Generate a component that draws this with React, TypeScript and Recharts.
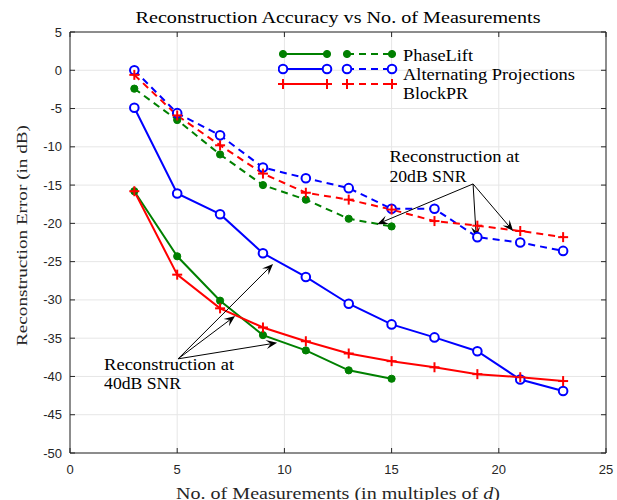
import React from 'react';
import { LineChart, Line, XAxis, YAxis, CartesianGrid, ReferenceLine, ReferenceDot, Legend } from 'recharts';

const measurements = [3, 5, 7, 9, 11, 13, 15, 17, 19, 21, 23];
const phaseLift40 = [-15.8, -24.3, -30.1, -34.6, -36.6, -39.2, -40.3];
const phaseLift20 = [-2.4, -6.5, -11.0, -15.0, -16.9, -19.4, -20.4];
const altProj40 = [-4.9, -16.1, -18.8, -23.9, -27.0, -30.5, -33.2, -34.9, -36.7, -40.4, -41.9];
const altProj20 = [0.0, -5.6, -8.5, -12.7, -14.1, -15.4, -18.1, -18.1, -21.8, -22.5, -23.6];
const blockPR40 = [-15.8, -26.7, -31.1, -33.6, -35.4, -37.0, -38.0, -38.8, -39.7, -40.1, -40.6];
const blockPR20 = [-0.6, -5.9, -9.8, -13.5, -16.0, -16.9, -18.2, -19.7, -20.3, -21.0, -21.8];

const xTicks = [0, 5, 10, 15, 20, 25];
const yTicks = [-50, -45, -40, -35, -30, -25, -20, -15, -10, -5, 0, 5];

const legendLabels = ['PhaseLift', 'Alternating Projections', 'BlockPR'];
const titleText = 'Reconstruction Accuracy vs No. of Measurements';
const xLabelText = 'No. of Measurements (in multiples of ';
const yLabelText = 'Reconstruction Error (in dB)';
const annotationLines = {
  snr40: ['Reconstruction at', '40dB SNR'],
  snr20: ['Reconstruction at', '20dB SNR'],
};
const snr40Origin = { x: 5.04, y: -37.7 };
const snr40Targets = [
  { x: 9.47, y: -25.3 },
  { x: 7.7, y: -32.1 },
  { x: 9.66, y: -35.6 },
];
const snr20Origin = { x: 18.8, y: -14.85 };
const snr20Targets = [
  { x: 14.33, y: -20.1 },
  { x: 18.95, y: -21.9 },
  { x: 20.67, y: -21.0 },
];
const snr40TextAnchor = { x: 1.59, y: -39.2 };
const snr20TextAnchor = { x: 14.9, y: -11.95 };

const data = measurements.map((m, i) => ({
  m,
  pl40: i < phaseLift40.length ? phaseLift40[i] : null,
  pl20: i < phaseLift20.length ? phaseLift20[i] : null,
  ap40: altProj40[i],
  ap20: altProj20[i],
  bp40: blockPR40[i],
  bp20: blockPR20[i],
}));

const W = 617;
const H = 500;
const M = { top: 32, right: 11, left: 0, bottom: 0 };
const YW = 70;
const XH = 47;
const PL = M.left + YW;
const PR = W - M.right;
const PT = M.top;
const PB = H - XH;

const AXIS = '#262626';
const GRID = '#e6e6e6';
const GREEN = '#008000';
const BLUE = '#0000ff';
const RED = '#ff0000';
const DASH = '7 5';
const SERIF = '"Liberation Serif", "DejaVu Serif", serif';
const SANS = '"Liberation Sans", Arial, sans-serif';

const legendTextLen = [70, 172, 65];
const annotTextLen = [130, 77];

const GreenDot = (p: any) => {
  if (p.cx == null || p.cy == null || p.value == null) return <g key={p.key} />;
  return <circle key={p.key} cx={p.cx} cy={p.cy} r={3.6} fill={GREEN} stroke={GREEN} strokeWidth={1} />;
};
const BlueDot = (p: any) => {
  if (p.cx == null || p.cy == null || p.value == null) return <g key={p.key} />;
  return <circle key={p.key} cx={p.cx} cy={p.cy} r={4.3} fill="#fff" stroke={BLUE} strokeWidth={2} />;
};
const RedDot = (p: any) => {
  if (p.cx == null || p.cy == null || p.value == null) return <g key={p.key} />;
  const s = 5;
  return (
    <g key={p.key}>
      <line x1={p.cx - s} y1={p.cy} x2={p.cx + s} y2={p.cy} stroke={RED} strokeWidth={2} />
      <line x1={p.cx} y1={p.cy - s} x2={p.cx} y2={p.cy + s} stroke={RED} strokeWidth={2} />
    </g>
  );
};

const YTick = (p: any) => {
  const { x, y, payload } = p;
  return (
    <g>
      <line x1={PL} y1={y} x2={PL + 5} y2={y} stroke={AXIS} strokeWidth={1} />
      <line x1={PR} y1={y} x2={PR - 5} y2={y} stroke={AXIS} strokeWidth={1} />
      <text x={x} y={y} dy={4.5} textAnchor="end" fill={AXIS} fontSize={13} fontFamily={SANS}>
        {payload.value}
      </text>
    </g>
  );
};

const XTick = (p: any) => {
  const { x, payload } = p;
  return (
    <g>
      <line x1={x} y1={PB} x2={x} y2={PB - 5} stroke={AXIS} strokeWidth={1} />
      <line x1={x} y1={PT} x2={x} y2={PT + 5} stroke={AXIS} strokeWidth={1} />
      <text x={x} y={PB + 21} textAnchor="middle" fill={AXIS} fontSize={13} fontFamily={SANS}>
        {payload.value}
      </text>
    </g>
  );
};

const ArrowShape = (p: any) => {
  const { x1, y1, x2, y2 } = p;
  const dx = x2 - x1;
  const dy = y2 - y1;
  const len = Math.sqrt(dx * dx + dy * dy) || 1;
  const ux = dx / len;
  const uy = dy / len;
  const nx = -uy;
  const ny = ux;
  const hl = 11;
  const hw = 4.5;
  const pts = [
    [x2, y2],
    [x2 - hl * ux + hw * nx, y2 - hl * uy + hw * ny],
    [x2 - 0.6 * hl * ux, y2 - 0.6 * hl * uy],
    [x2 - hl * ux - hw * nx, y2 - hl * uy - hw * ny],
  ]
    .map((q) => q.join(','))
    .join(' ');
  return (
    <g>
      <line x1={x1} y1={y1} x2={x2 - 0.6 * hl * ux} y2={y2 - 0.6 * hl * uy} stroke="#000" strokeWidth={1} />
      <polygon points={pts} fill="#000" />
    </g>
  );
};

const makeTextShape = (lines: string[], spacing: number) => (p: any) => (
  <g>
    {lines.map((l, i) => (
      <text
        key={i}
        x={p.cx}
        y={p.cy + i * spacing}
        fill="#000"
        fontSize={16}
        fontFamily={SERIF}
        textLength={annotTextLen[i]}
        lengthAdjust="spacingAndGlyphs"
      >
        {l}
      </text>
    ))}
  </g>
);

const LegendContent = () => {
  const rows = [
    { color: GREEN, Dot: GreenDot, y: 12 },
    { color: BLUE, Dot: BlueDot, y: 27 },
    { color: RED, Dot: RedDot, y: 42 },
  ];
  const textY = [18.5, 37.5, 56.5];
  return (
    <svg width={330} height={64}>
      {rows.map((r, i) => (
        <g key={i}>
          <line x1={5} y1={r.y} x2={49} y2={r.y} stroke={r.color} strokeWidth={2} />
          {r.Dot({ cx: 5, cy: r.y, value: 1 })}
          {r.Dot({ cx: 49, cy: r.y, value: 1 })}
          <line x1={69} y1={r.y} x2={114} y2={r.y} stroke={r.color} strokeWidth={2} strokeDasharray={DASH} />
          {r.Dot({ cx: 69, cy: r.y, value: 1 })}
          {r.Dot({ cx: 114, cy: r.y, value: 1 })}
          <text
            x={125}
            y={textY[i]}
            fill="#000"
            fontSize={16.5}
            fontFamily={SERIF}
            textLength={legendTextLen[i]}
            lengthAdjust="spacingAndGlyphs"
          >
            {legendLabels[i]}
          </text>
        </g>
      ))}
    </svg>
  );
};

const XLabel = () => {
  const cx = (PL + PR) / 2;
  return (
    <text
      x={cx}
      y={PB + 45.5}
      textAnchor="middle"
      fill={AXIS}
      fontSize={16}
      fontFamily={SERIF}
      textLength={324}
      lengthAdjust="spacingAndGlyphs"
    >
      {xLabelText}
      <tspan fontStyle="italic">d</tspan>)
    </text>
  );
};

const YLabel = () => {
  const cy = 235.5;
  const bx = 27;
  return (
    <text
      x={bx}
      y={cy}
      transform={`rotate(-90, ${bx}, ${cy})`}
      textAnchor="middle"
      fill={AXIS}
      fontSize={15.5}
      fontFamily={SERIF}
      textLength={221}
      lengthAdjust="spacingAndGlyphs"
    >
      {yLabelText}
    </text>
  );
};

export default function App() {
  return (
    <div style={{ position: 'absolute', left: 0, top: 0, width: W, height: H, background: '#fff' }}>
      <LineChart width={W} height={H} data={data} margin={M}>
        <CartesianGrid stroke={GRID} strokeWidth={1} horizontalValues={yTicks} verticalValues={xTicks} />
        <XAxis
          dataKey="m"
          type="number"
          domain={[0, 25]}
          ticks={xTicks}
          height={XH}
          tick={<XTick />}
          tickLine={false}
          axisLine={{ stroke: AXIS, strokeWidth: 1 }}
          label={<XLabel />}
          interval={0}
        />
        <YAxis
          type="number"
          domain={[-50, 5]}
          ticks={yTicks}
          width={YW}
          tick={<YTick />}
          tickLine={false}
          axisLine={{ stroke: AXIS, strokeWidth: 1 }}
          label={<YLabel />}
          interval={0}
        />
        <ReferenceLine y={5} stroke={AXIS} strokeWidth={1} />
        <ReferenceLine x={25} stroke={AXIS} strokeWidth={1} />
        <Line dataKey="pl40" stroke={GREEN} strokeWidth={2} dot={GreenDot} isAnimationActive={false} connectNulls={false} />
        <Line dataKey="pl20" stroke={GREEN} strokeWidth={2} strokeDasharray={DASH} dot={GreenDot} isAnimationActive={false} connectNulls={false} />
        <Line dataKey="ap40" stroke={BLUE} strokeWidth={2} dot={BlueDot} isAnimationActive={false} />
        <Line dataKey="ap20" stroke={BLUE} strokeWidth={2} strokeDasharray={DASH} dot={BlueDot} isAnimationActive={false} />
        <Line dataKey="bp40" stroke={RED} strokeWidth={2} dot={RedDot} isAnimationActive={false} />
        <Line dataKey="bp20" stroke={RED} strokeWidth={2} strokeDasharray={DASH} dot={RedDot} isAnimationActive={false} />
        {snr40Targets.map((t, i) => (
          <ReferenceLine key={'a40' + i} segment={[snr40Origin, t]} shape={ArrowShape} ifOverflow="visible" />
        ))}
        {snr20Targets.map((t, i) => (
          <ReferenceLine key={'a20' + i} segment={[snr20Origin, t]} shape={ArrowShape} ifOverflow="visible" />
        ))}
        <ReferenceDot x={snr40TextAnchor.x} y={snr40TextAnchor.y} r={0} shape={makeTextShape(annotationLines.snr40, 19)} ifOverflow="visible" />
        <ReferenceDot x={snr20TextAnchor.x} y={snr20TextAnchor.y} r={0} shape={makeTextShape(annotationLines.snr20, 20)} ifOverflow="visible" />
        <Legend
          layout="horizontal"
          verticalAlign="middle"
          align="center"
          content={<LegendContent />}
          wrapperStyle={{ position: 'absolute', left: 278, top: 42, width: 330, height: 64 }}
        />
      </LineChart>
      <svg
        width={W}
        height={30}
        style={{ position: 'absolute', left: 0, top: 0, pointerEvents: 'none' }}
      >
        <text
          x={(PL + PR) / 2}
          y={23}
          textAnchor="middle"
          fill="#000"
          fontSize={17}
          fontFamily={SERIF}
          textLength={405}
          lengthAdjust="spacingAndGlyphs"
        >
          {titleText}
        </text>
      </svg>
    </div>
  );
}
